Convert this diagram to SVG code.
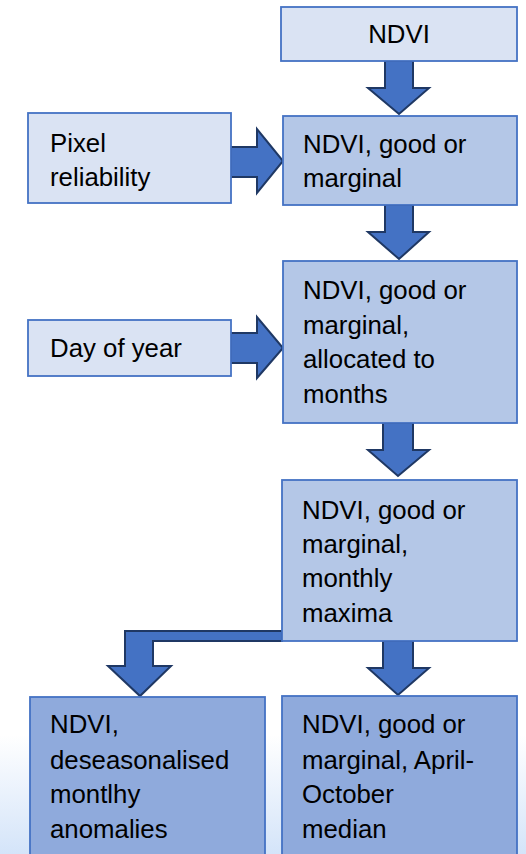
<svg xmlns="http://www.w3.org/2000/svg" width="526" height="854" viewBox="0 0 526 854">
<defs>
<linearGradient id="bg" x1="0" y1="0" x2="0" y2="1">
<stop offset="0" stop-color="#ffffff"/>
<stop offset="1" stop-color="#d4e4f9"/>
</linearGradient>
<style>
.box{stroke:#4472c4;stroke-width:1.8}
.l{fill:#dae3f3}
.m{fill:#b4c7e7}
.d{fill:#8faadc}
.arr{fill:#4472c4;stroke:#1f3864;stroke-width:2;stroke-linejoin:miter}
text{font-family:"Liberation Sans",Arial,sans-serif;font-size:25.8px;fill:#000}
</style>
</defs>
<rect x="0" y="0" width="526" height="854" fill="#ffffff"/>
<rect x="0" y="735" width="526" height="119" fill="url(#bg)"/>
<g id="connectors">
<polygon class="arr" points="385,61 413,61 413,88 429,88 399,114 368,88 385,88"/>
<polygon class="arr" points="385,205 413,205 413,232 429,232 399,259 368,232 385,232"/>
<polygon class="arr" points="383,423 413,423 413,450 429,450 398,476 368,450 383,450"/>
<polygon class="arr" points="383,641 413,641 413,668 429,668 398,695 368,668 383,668"/>
<polygon class="arr" points="231,147 257,147 257,129 283,161 257,193 257,177 231,177"/>
<polygon class="arr" points="231,333 257,333 257,317 283,348 257,378 257,363 231,363"/>
<polygon class="arr" points="282,631 125,631 125,666 108,666 140,696 171,666 153,666 153,641 282,641"/>
</g>
<g id="n1"><rect class="box l" x="281" y="7" width="236" height="54"/><text x="399" y="43" text-anchor="middle">NDVI</text></g>
<g id="n2"><rect class="box l" x="28" y="113" width="203" height="90"/><text x="50" y="152">Pixel</text><text x="50" y="186">reliability</text></g>
<g id="n3"><rect class="box m" x="283" y="116" width="234" height="89"/><text x="303" y="153">NDVI, good or</text><text x="303" y="187">marginal</text></g>
<g id="n4"><rect class="box m" x="283" y="261" width="234" height="162"/><text x="303" y="299">NDVI, good or</text><text x="303" y="334">marginal,</text><text x="303" y="368">allocated to</text><text x="303" y="403">months</text></g>
<g id="n5"><rect class="box l" x="28" y="320" width="203" height="56"/><text x="50" y="357">Day of year</text></g>
<g id="n6"><rect class="box m" x="282" y="480" width="235" height="161"/><text x="302" y="519">NDVI, good or</text><text x="302" y="553">marginal,</text><text x="302" y="587">monthly</text><text x="302" y="622">maxima</text></g>
<g id="n7"><rect class="box d" x="30" y="697" width="235" height="170"/><text x="50" y="733">NDVI,</text><text x="50" y="769">deseasonalised</text><text x="50" y="803">montlhy</text><text x="50" y="838">anomalies</text></g>
<g id="n8"><rect class="box d" x="282" y="696" width="235" height="170"/><text x="302" y="733">NDVI, good or</text><text x="302" y="769">marginal, April-</text><text x="302" y="803">October</text><text x="302" y="838">median</text></g>
</svg>
